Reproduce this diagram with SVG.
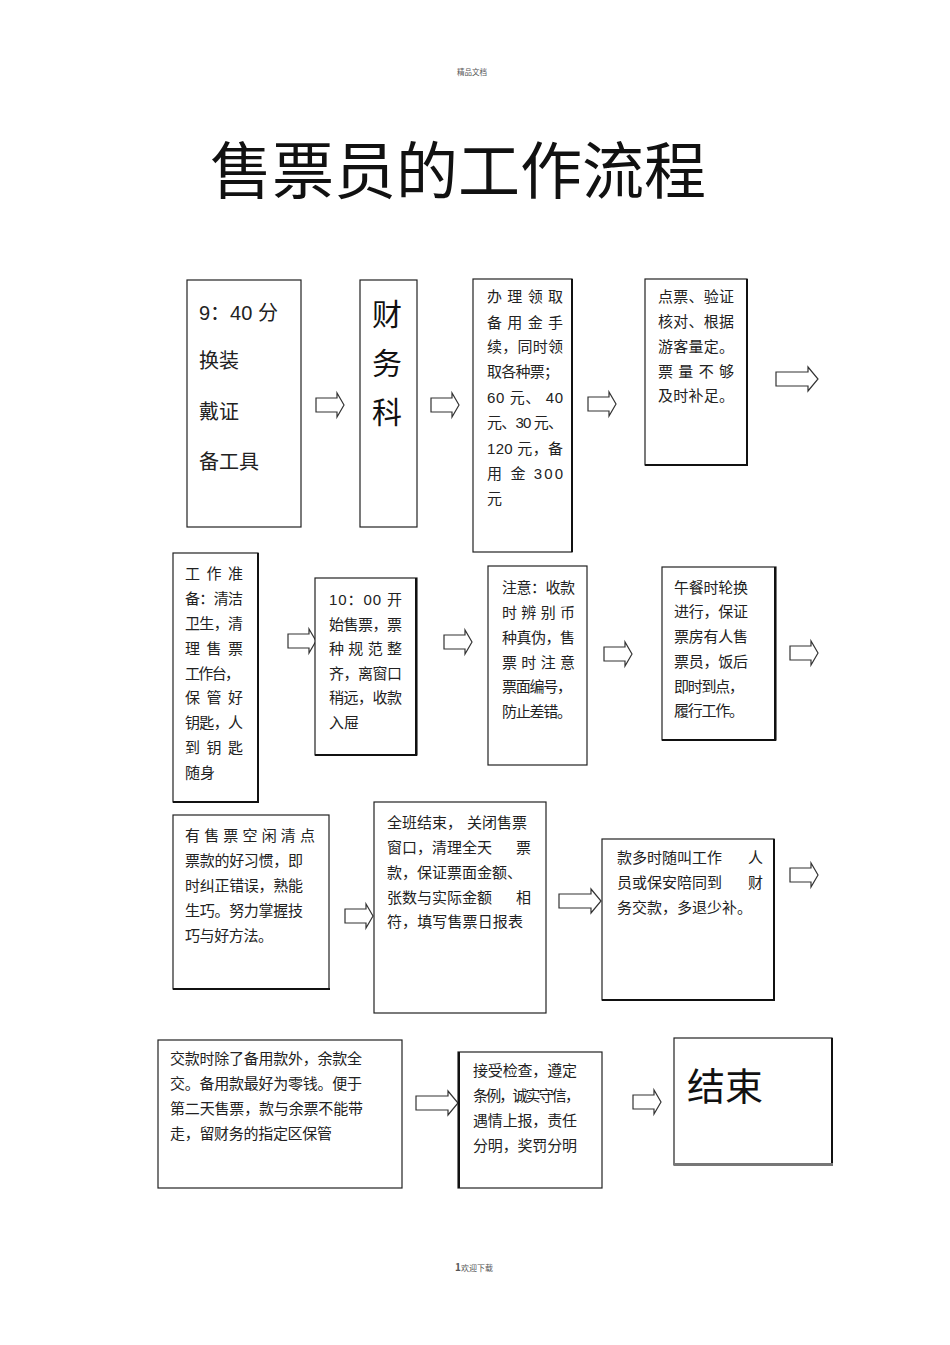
<svg xmlns="http://www.w3.org/2000/svg" width="950" height="1345" viewBox="0 0 950 1345">
<style>
.bg{fill:#fff}
.box{fill:#fff;stroke:#222;stroke-width:1.2}
.sh{stroke:#111;stroke-width:2;fill:none}
.t{font-family:"Liberation Sans","Noto Sans CJK SC",sans-serif;font-size:15px;fill:#222}
.t20{font-family:"Liberation Sans","Noto Sans CJK SC",sans-serif;font-size:20px;fill:#222}
.big{font-family:"Liberation Sans","Noto Sans CJK SC",sans-serif;fill:#111}
.arr{fill:#fff;stroke:#333;stroke-width:1.2;stroke-linejoin:miter}
.small{font-family:"Noto Sans CJK SC",sans-serif;fill:#555}
</style>
<defs>
<path id="as" class="arr" d="M0,5 H21 V0 L28,12 L21,24 V19 H0 Z"/>
<path id="ab" class="arr" d="M0,5 H32 V0 L42,12 L32,24 V19 H0 Z"/>
</defs>
<rect class="bg" x="0" y="0" width="950" height="1345"/>
<text class="small" x="472" y="75" font-size="7.5" text-anchor="middle">精品文档</text>
<text class="small" x="455" y="1271" font-size="10" font-weight="bold" fill="#333">1<tspan font-size="8" font-weight="normal" fill="#555">欢迎下载</tspan></text>
<text class="big" x="210" y="194" font-size="62">售票员的工作流程</text>

<g id="connectors">
<use href="#as" x="316" y="393"/>
<use href="#as" x="431" y="393"/>
<use href="#as" x="588" y="392"/>
<use href="#ab" x="776" y="367"/>
<use href="#as" x="288" y="629"/>
<use href="#as" x="444" y="630"/>
<use href="#as" x="604" y="642"/>
<use href="#as" x="790" y="641"/>
<use href="#as" x="345" y="904"/>
<use href="#ab" x="559" y="889"/>
<use href="#as" x="790" y="863"/>
<use href="#ab" x="416" y="1091"/>
<use href="#as" x="633" y="1090"/>
</g>

<g id="n1">
<rect class="box" x="187" y="280" width="114" height="247"/>
<text class="t20" x="199" y="320">9：40 分</text>
<text class="t20" x="199" y="368">换装</text>
<text class="t20" x="199" y="419">戴证</text>
<text class="t20" x="199" y="469">备工具</text>
</g>

<g id="n2">
<rect class="box" x="360" y="280" width="57" height="247"/>
<text class="big" font-size="30" x="387" y="325" text-anchor="middle">财</text>
<text class="big" font-size="30" x="387" y="374" text-anchor="middle">务</text>
<text class="big" font-size="30" x="387" y="423" text-anchor="middle">科</text>
</g>

<g id="n3">
<rect class="box" x="473" y="279" width="99" height="273"/>
<line class="sh" x1="572" y1="279" x2="572" y2="552"/>
<text class="t" x="487" y="302" textLength="76" lengthAdjust="spacing">办理领取</text>
<text class="t" x="487" y="328" textLength="76" lengthAdjust="spacing">备用金手</text>
<text class="t" x="487" y="352" textLength="76" lengthAdjust="spacing">续，同时领</text>
<text class="t" x="487" y="377" textLength="72" lengthAdjust="spacing">取各种票；</text>
<text class="t" x="487" y="403" textLength="76" lengthAdjust="spacing">60 元、 40</text>
<text class="t" x="487" y="428" textLength="76" lengthAdjust="spacing">元、30 元、</text>
<text class="t" x="487" y="454" textLength="76" lengthAdjust="spacing">120 元，备</text>
<text class="t" x="487" y="479" textLength="76" lengthAdjust="spacing">用 金  300</text>
<text class="t" x="487" y="504">元</text>
</g>

<g id="n4">
<rect class="box" x="645" y="279" width="102" height="186"/>
<line class="sh" x1="747" y1="279" x2="747" y2="466"/>
<line class="sh" x1="645" y1="465" x2="748" y2="465"/>
<text class="t" x="658" y="302" textLength="76" lengthAdjust="spacing">点票、验证</text>
<text class="t" x="658" y="327" textLength="76" lengthAdjust="spacing">核对、根据</text>
<text class="t" x="658" y="352" textLength="76" lengthAdjust="spacing">游客量定。</text>
<text class="t" x="658" y="377" textLength="76" lengthAdjust="spacing">票量不够</text>
<text class="t" x="658" y="401" textLength="76" lengthAdjust="spacing">及时补足。</text>
</g>

<g id="n5">
<rect class="box" x="173" y="553" width="85" height="249"/>
<line class="sh" x1="258" y1="553" x2="258" y2="803"/>
<line class="sh" x1="173" y1="802" x2="259" y2="802"/>
<text class="t" x="185" y="579" textLength="58" lengthAdjust="spacing">工作准</text>
<text class="t" x="185" y="604" textLength="58" lengthAdjust="spacing">备：清洁</text>
<text class="t" x="185" y="629" textLength="58" lengthAdjust="spacing">卫生，清</text>
<text class="t" x="185" y="654" textLength="58" lengthAdjust="spacing">理售票</text>
<text class="t" x="185" y="679" textLength="55" lengthAdjust="spacing">工作台，</text>
<text class="t" x="185" y="703" textLength="58" lengthAdjust="spacing">保管好</text>
<text class="t" x="185" y="728" textLength="58" lengthAdjust="spacing">钥匙，人</text>
<text class="t" x="185" y="753" textLength="58" lengthAdjust="spacing">到钥匙</text>
<text class="t" x="185" y="778">随身</text>
</g>

<g id="n6">
<rect class="box" x="315" y="578" width="102" height="177"/>
<line class="sh" x1="416" y1="578" x2="416" y2="756"/>
<line class="sh" x1="315" y1="755" x2="417" y2="755"/>
<text class="t" x="329" y="605" textLength="73" lengthAdjust="spacing">10：00 开</text>
<text class="t" x="329" y="630" textLength="73" lengthAdjust="spacing">始售票，票</text>
<text class="t" x="329" y="654" textLength="73" lengthAdjust="spacing">种规范整</text>
<text class="t" x="329" y="679" textLength="73" lengthAdjust="spacing">齐，离窗口</text>
<text class="t" x="329" y="703" textLength="73" lengthAdjust="spacing">稍远，收款</text>
<text class="t" x="329" y="728">入屉</text>
</g>

<g id="n7">
<rect class="box" x="488" y="566" width="99" height="199"/>
<text class="t" x="502" y="593" textLength="73" lengthAdjust="spacing">注意：收款</text>
<text class="t" x="502" y="618" textLength="73" lengthAdjust="spacing">时辨别币</text>
<text class="t" x="502" y="643" textLength="73" lengthAdjust="spacing">种真伪，售</text>
<text class="t" x="502" y="668" textLength="73" lengthAdjust="spacing">票时注意</text>
<text class="t" x="502" y="692" textLength="70" lengthAdjust="spacing">票面编号，</text>
<text class="t" x="502" y="717" textLength="70" lengthAdjust="spacing">防止差错。</text>
</g>

<g id="n8">
<rect class="box" x="662" y="567" width="114" height="173"/>
<line class="sh" x1="775" y1="567" x2="775" y2="741"/>
<line class="sh" x1="662" y1="740" x2="776" y2="740"/>
<text class="t" x="674" y="593" textLength="74" lengthAdjust="spacing">午餐时轮换</text>
<text class="t" x="674" y="617" textLength="74" lengthAdjust="spacing">进行，保证</text>
<text class="t" x="674" y="642" textLength="74" lengthAdjust="spacing">票房有人售</text>
<text class="t" x="674" y="667" textLength="74" lengthAdjust="spacing">票员，饭后</text>
<text class="t" x="674" y="692" textLength="70" lengthAdjust="spacing">即时到点，</text>
<text class="t" x="674" y="716" textLength="70" lengthAdjust="spacing">履行工作。</text>
</g>

<g id="n9">
<rect class="box" x="173" y="815" width="156" height="174"/>
<line class="sh" x1="173" y1="989" x2="330" y2="989"/>
<text class="t" x="185" y="841" textLength="130" lengthAdjust="spacing">有售票空闲清点</text>
<text class="t" x="185" y="866" textLength="118" lengthAdjust="spacing">票款的好习惯，即</text>
<text class="t" x="185" y="891" textLength="118" lengthAdjust="spacing">时纠正错误，熟能</text>
<text class="t" x="185" y="916" textLength="118" lengthAdjust="spacing">生巧。努力掌握技</text>
<text class="t" x="185" y="941" textLength="88" lengthAdjust="spacing">巧与好方法。</text>
</g>

<g id="n10">
<rect class="box" x="374" y="802" width="172" height="211"/>
<text class="t" x="387" y="828">全班结束，</text>
<text class="t" x="467" y="828">关闭售票</text>
<text class="t" x="387" y="853">窗口，清理全天</text>
<text class="t" x="516" y="853">票</text>
<text class="t" x="387" y="878" textLength="135" lengthAdjust="spacing">款，保证票面金额、</text>
<text class="t" x="387" y="903">张数与实际金额</text>
<text class="t" x="516" y="903">相</text>
<text class="t" x="387" y="927" textLength="136" lengthAdjust="spacing">符，填写售票日报表</text>
</g>

<g id="n11">
<rect class="box" x="602" y="839" width="172" height="161"/>
<line class="sh" x1="774" y1="839" x2="774" y2="1001"/>
<line class="sh" x1="602" y1="1000" x2="775" y2="1000"/>
<text class="t" x="617" y="863">款多时随叫工作</text>
<text class="t" x="748" y="863">人</text>
<text class="t" x="617" y="888">员或保安陪同到</text>
<text class="t" x="748" y="888">财</text>
<text class="t" x="617" y="913">务交款，多退少补。</text>
</g>

<g id="n12">
<rect class="box" x="158" y="1040" width="244" height="148"/>
<text class="t" x="170" y="1064" textLength="192" lengthAdjust="spacing">交款时除了备用款外，余款全</text>
<text class="t" x="170" y="1089" textLength="192" lengthAdjust="spacing">交。备用款最好为零钱。便于</text>
<text class="t" x="170" y="1114" textLength="193" lengthAdjust="spacing">第二天售票，款与余票不能带</text>
<text class="t" x="170" y="1139" textLength="162" lengthAdjust="spacing">走，留财务的指定区保管</text>
</g>

<g id="n13">
<rect class="box" x="458" y="1052" width="144" height="136"/>
<line class="sh" x1="459" y1="1052" x2="459" y2="1188"/>
<text class="t" x="473" y="1076" textLength="104" lengthAdjust="spacing">接受检查，遵定</text>
<text class="t" x="473" y="1101" textLength="107" lengthAdjust="spacing">条例，诚实守信，</text>
<text class="t" x="473" y="1126" textLength="104" lengthAdjust="spacing">遇情上报，责任</text>
<text class="t" x="473" y="1151" textLength="104" lengthAdjust="spacing">分明，奖罚分明</text>
</g>

<g id="n14">
<rect class="box" x="674" y="1038" width="158" height="127"/>
<line class="sh" x1="832" y1="1038" x2="832" y2="1166"/>
<line x1="674" y1="1164.5" x2="833" y2="1164.5" stroke="#777" stroke-width="3"/>
<text class="big" font-size="38" x="687" y="1100">结束</text>
</g>
</svg>
